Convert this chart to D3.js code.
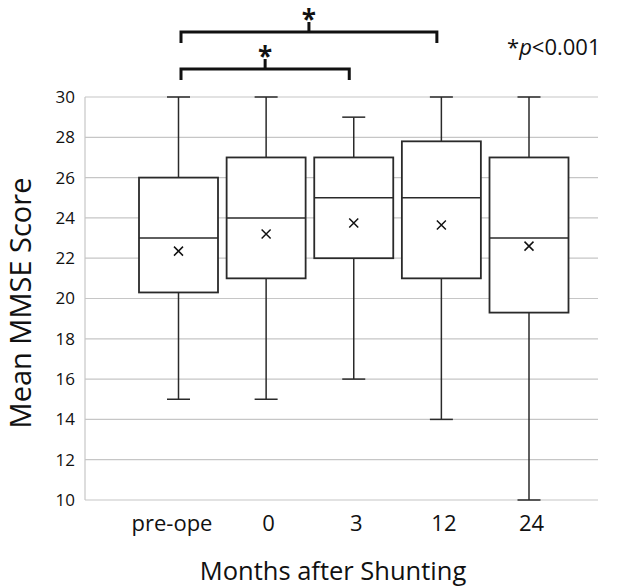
<!DOCTYPE html>
<html>
<head>
<meta charset="utf-8">
<script src="https://cdn.jsdelivr.net/npm/d3@7"></script>
<style>
  body { margin: 0; background: #fff; }
  text { font-family: "Open Sans", "Noto Sans", sans-serif; fill: #111; }
</style>
</head>
<body>
<svg id="chart" width="630" height="588"></svg>
<script>
// data
const groups = ["pre-ope", "0", "3", "12", "24"];
const mins = [15, 15, 16, 14, 10];
const q1s = [20.3, 21, 22, 21, 19.3];
const medians = [23, 24, 25, 25, 23];
const q3s = [26, 27, 27, 27.8, 27];
const maxs = [30, 30, 29, 30, 30];
const means = [22.35, 23.2, 23.75, 23.65, 22.6];
const yTicks = [10, 12, 14, 16, 18, 20, 22, 24, 26, 28, 30];
// significance brackets: from group, to group, label
const brackets = [
  { from: "pre-ope", to: "12", label: "*", level: 0 },
  { from: "pre-ope", to: "3", label: "*", level: 1 }
];

const svg = d3.select("#chart");
const margin = { top: 97, right: 32, bottom: 88, left: 85 };
const width = 630, height = 588;

const boxes = groups.map((g, i) => ({
  group: g, min: mins[i], q1: q1s[i], median: medians[i],
  q3: q3s[i], max: maxs[i], mean: means[i]
}));

const x = d3.scalePoint()
  .domain(groups)
  .range([178.5, 529]);

const y = d3.scaleLinear()
  .domain([10, 30])
  .range([height - margin.bottom, margin.top]);

// gridlines
svg.append("g")
  .selectAll("line")
  .data(yTicks)
  .join("line")
  .attr("x1", margin.left)
  .attr("x2", width - margin.right)
  .attr("y1", d => y(d))
  .attr("y2", d => y(d))
  .attr("stroke", "#c6c6c6")
  .attr("stroke-width", 1.2);

svg.append("line")
  .attr("x1", margin.left).attr("x2", margin.left)
  .attr("y1", y(30)).attr("y2", y(10))
  .attr("stroke", "#c6c6c6").attr("stroke-width", 1.2);

// y axis labels
const yAxis = svg.append("g")
  .attr("transform", `translate(${margin.left - 10},0)`)
  .call(d3.axisLeft(y).tickValues(yTicks).tickSize(0).tickPadding(0));
yAxis.select(".domain").remove();
yAxis.selectAll("text")
  .style("font-size", "17px")
  .style("font-family", "'Open Sans', sans-serif")
  .attr("fill", "#111");

// x axis labels
const xAxis = svg.append("g")
  .attr("transform", `translate(0,${y(10) + 15})`)
  .call(d3.axisBottom(x).tickSize(0).tickPadding(0));
xAxis.select(".domain").remove();
xAxis.selectAll("text")
  .style("font-size", "22px")
  .style("font-family", "'Open Sans', sans-serif")
  .attr("fill", "#111")
  .attr("dx", d => d === "pre-ope" ? -7 : 2);

const boxW = 79, capW = 23;
const stroke = "#2a2a2a";

const bx = svg.append("g")
  .selectAll("g")
  .data(boxes)
  .join("g")
  .attr("transform", d => `translate(${x(d.group)},0)`);

// whiskers
bx.append("line")
  .attr("x1", 0).attr("x2", 0)
  .attr("y1", d => y(d.max)).attr("y2", d => y(d.q3))
  .attr("stroke", stroke).attr("stroke-width", 1.5);
bx.append("line")
  .attr("x1", 0).attr("x2", 0)
  .attr("y1", d => y(d.q1)).attr("y2", d => y(d.min))
  .attr("stroke", stroke).attr("stroke-width", 1.5);
bx.append("line")
  .attr("x1", -capW / 2).attr("x2", capW / 2)
  .attr("y1", d => y(d.max)).attr("y2", d => y(d.max))
  .attr("stroke", stroke).attr("stroke-width", 1.5);
bx.append("line")
  .attr("x1", -capW / 2).attr("x2", capW / 2)
  .attr("y1", d => y(d.min)).attr("y2", d => y(d.min))
  .attr("stroke", stroke).attr("stroke-width", 1.5);

// box
bx.append("rect")
  .attr("x", -boxW / 2)
  .attr("width", boxW)
  .attr("y", d => y(d.q3))
  .attr("height", d => y(d.q1) - y(d.q3))
  .attr("fill", "#fff")
  .attr("stroke", stroke)
  .attr("stroke-width", 1.8);

// median
bx.append("line")
  .attr("x1", -boxW / 2).attr("x2", boxW / 2)
  .attr("y1", d => y(d.median)).attr("y2", d => y(d.median))
  .attr("stroke", stroke).attr("stroke-width", 1.5);

// mean marker
const m = 4.5;
bx.append("path")
  .attr("d", d => {
    const cy = y(d.mean);
    return `M${-m},${cy - m}L${m},${cy + m}M${-m},${cy + m}L${m},${cy - m}`;
  })
  .attr("stroke", "#111").attr("stroke-width", 1.5);

// brackets
const bLevelY = [32, 69];
const br = svg.append("g")
  .selectAll("g")
  .data(brackets)
  .join("g");

br.append("path")
  .attr("d", d => {
    const x1 = x(d.from) + 2.5, x2 = x(d.to) - 4.5, by = bLevelY[d.level];
    return `M${x1},${by + 11}V${by}H${x2}V${by + 11}`;
  })
  .attr("fill", "none")
  .attr("stroke", "#111")
  .attr("stroke-width", 3);

br.append("line")
  .attr("x1", d => (x(d.from) + x(d.to)) / 2 - 1)
  .attr("x2", d => (x(d.from) + x(d.to)) / 2 - 1)
  .attr("y1", d => bLevelY[d.level])
  .attr("y2", d => bLevelY[d.level] - 10)
  .attr("stroke", "#111")
  .attr("stroke-width", 3);

br.append("text")
  .attr("x", d => (x(d.from) + x(d.to)) / 2 - 1)
  .attr("y", d => bLevelY[d.level] - 3)
  .attr("text-anchor", "middle")
  .style("font-size", "26px")
  .style("font-weight", "bold")
  .text(d => d.label);

// p-value note
const note = svg.append("text")
  .attr("x", 507)
  .attr("y", 55)
  .style("font-size", "22px");
note.append("tspan").text("*");
note.append("tspan").style("font-style", "italic").text("p");
note.append("tspan").text("<0.001");

// axis titles
svg.append("text")
  .attr("x", 333)
  .attr("y", 580)
  .attr("text-anchor", "middle")
  .style("font-size", "25.5px")
  .text("Months after Shunting");

svg.append("text")
  .attr("transform", `translate(31,303) rotate(-90)`)
  .attr("text-anchor", "middle")
  .style("font-size", "29px")
  .text("Mean MMSE Score");
</script>
</body>
</html>
